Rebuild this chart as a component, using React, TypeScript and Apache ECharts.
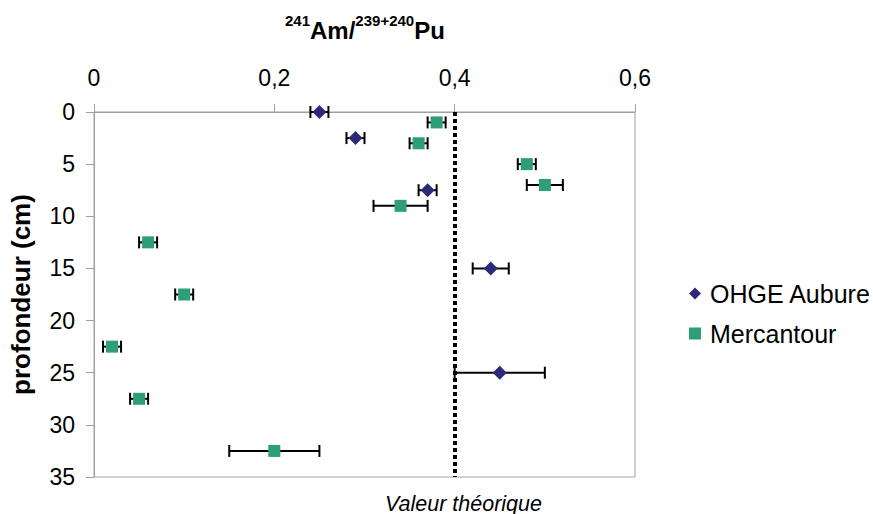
import React, { useEffect, useRef } from "react";
import * as echarts from "echarts";

// OHGE Aubure: depth (cm), ratio, error
const ohgeDepth = [0, 2.5, 7.5, 15, 25];
const ohgeRatio = [0.25, 0.29, 0.37, 0.44, 0.45];
const ohgeErr = [0.01, 0.01, 0.01, 0.02, 0.05];

// Mercantour
const mercDepth = [1, 3, 5, 7, 9, 12.5, 17.5, 22.5, 27.5, 32.5];
const mercRatio = [0.38, 0.36, 0.48, 0.5, 0.34, 0.06, 0.1, 0.02, 0.05, 0.2];
const mercErr = [0.01, 0.01, 0.01, 0.02, 0.03, 0.01, 0.01, 0.01, 0.01, 0.05];

const theoreticalValue = 0.397;
const seriesNames = ["OHGE Aubure", "Mercantour"];
const colors = ["#2c2a78", "#2e9e74"];

const FONT = "Liberation Sans, Arial, sans-serif";

export default function App() {
  const ref = useRef<HTMLDivElement>(null);
  useEffect(() => {
    if (!ref.current) return;
    const chart = echarts.init(ref.current, undefined, { renderer: "svg" });

    const errData = (ratio: number[], depth: number[], err: number[]) =>
      ratio.map((r, i) => [r, depth[i], err[i]]);

    const renderErr = (params: any, api: any) => {
      const x = api.value(0);
      const y = api.value(1);
      const e = api.value(2);
      const p1 = api.coord([x - e, y]);
      const p2 = api.coord([x + e, y]);
      const h = 6;
      const st = { stroke: "#000", lineWidth: 2 };
      return {
        type: "group",
        children: [
          { type: "line", shape: { x1: p1[0], y1: p1[1], x2: p2[0], y2: p2[1] }, style: st },
          { type: "line", shape: { x1: p1[0], y1: p1[1] - h, x2: p1[0], y2: p1[1] + h }, style: st },
          { type: "line", shape: { x1: p2[0], y1: p2[1] - h, x2: p2[0], y2: p2[1] + h }, style: st },
        ],
      };
    };

    chart.setOption({
      animation: false,
      textStyle: { fontFamily: FONT },
      title: [
        {
          text: "{s|241}{b|Am/}{s|239+240}{b|Pu}",
          left: 280,
          top: 8,
          textStyle: {
            rich: {
              s: { fontSize: 15, fontWeight: "bold", color: "#000", fontFamily: FONT, verticalAlign: "top", lineHeight: 30 },
              b: { fontSize: 24, fontWeight: "bold", color: "#000", fontFamily: FONT, lineHeight: 34 },
            },
          },
        },
        {
          text: "Valeur théorique",
          left: 380,
          top: 488,
          textStyle: { fontSize: 21.5, fontStyle: "italic", fontWeight: "normal", color: "#000", fontFamily: FONT },
        },
      ],
      legend: {
        orient: "vertical",
        left: 684,
        top: 276,
        itemGap: 15,
        itemWidth: 12,
        itemHeight: 12,
        textStyle: { fontSize: 25, color: "#000", fontFamily: FONT, padding: [0, 0, 0, 4] },
        data: [
          { name: seriesNames[0], icon: "diamond", itemStyle: { opacity: 1 } },
          { name: seriesNames[1], icon: "rect", itemStyle: { opacity: 1 } },
        ],
      },
      grid: {
        left: 94,
        top: 112,
        right: 238,
        bottom: 37,
        show: true,
        borderColor: "#a0a0a0",
        borderWidth: 1,
        containLabel: false,
      },
      xAxis: {
        type: "value",
        position: "top",
        min: 0,
        max: 0.6,
        interval: 0.2,
        axisLine: { show: true, lineStyle: { color: "#a0a0a0", width: 1 } },
        axisTick: { show: true, length: 8, lineStyle: { color: "#a0a0a0" } },
        splitLine: { show: false },
        axisLabel: {
          fontSize: 23,
          color: "#000",
          margin: 23,
          fontFamily: FONT,
          formatter: (v: number) => String(Math.round(v * 10) / 10).replace(".", ","),
        },
      },
      yAxis: {
        type: "value",
        inverse: true,
        min: 0,
        max: 35,
        interval: 5,
        name: "profondeur (cm)",
        nameLocation: "middle",
        nameGap: 60,
        nameRotate: 90,
        nameTextStyle: { fontSize: 26, fontWeight: "bold", color: "#000", fontFamily: FONT },
        axisLine: { show: true, lineStyle: { color: "#a0a0a0", width: 1 } },
        axisTick: { show: true, length: 8, lineStyle: { color: "#a0a0a0" } },
        splitLine: { show: false },
        axisLabel: { fontSize: 23, color: "#000", margin: 19, fontFamily: FONT },
      },
      series: [
        {
          type: "custom",
          name: "errOhge",
          renderItem: renderErr,
          data: errData(ohgeRatio, ohgeDepth, ohgeErr),
          encode: { x: 0, y: 1 },
          z: 1,
          silent: true,
        },
        {
          type: "custom",
          name: "errMerc",
          renderItem: renderErr,
          data: errData(mercRatio, mercDepth, mercErr),
          encode: { x: 0, y: 1 },
          z: 1,
          silent: true,
        },
        {
          type: "scatter",
          name: seriesNames[0],
          symbol: "diamond",
          symbolSize: 14,
          itemStyle: { color: colors[0], opacity: 1 },
          data: ohgeRatio.map((r, i) => [r, ohgeDepth[i]]),
          z: 3,
          markLine: {
            silent: true,
            symbol: ["none", "none"],
            label: { show: false },
            lineStyle: { color: "#000", width: 4, type: [4, 3], opacity: 1 },
            data: [{ xAxis: theoreticalValue }],
          },
        },
        {
          type: "scatter",
          name: seriesNames[1],
          symbol: "rect",
          symbolSize: 12,
          itemStyle: { color: colors[1], opacity: 1 },
          data: mercRatio.map((r, i) => [r, mercDepth[i]]),
          z: 3,
        },
      ],
    });
    return () => chart.dispose();
  }, []);
  return <div ref={ref} style={{ width: 873, height: 514, position: "absolute", left: 0, top: 0 }} />;
}
